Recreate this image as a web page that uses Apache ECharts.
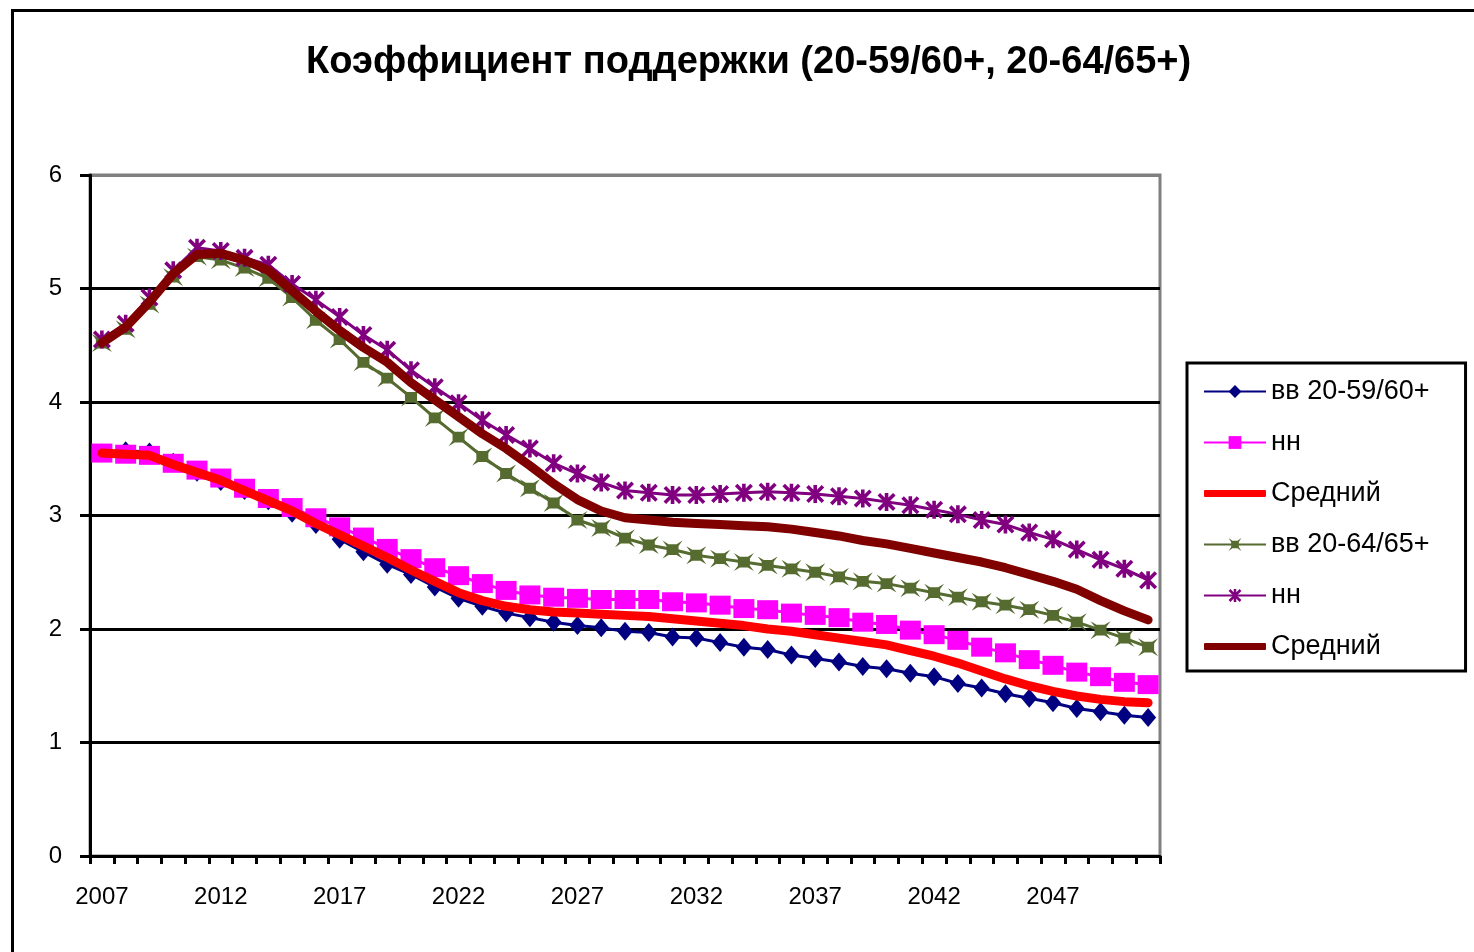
<!DOCTYPE html>
<html>
<head>
<meta charset="utf-8">
<script src="https://cdn.jsdelivr.net/npm/echarts@6/dist/echarts.min.js"></script>
<style>
html,body{margin:0;padding:0;background:#fff;}
#chart{width:1474px;height:952px;}
</style>
</head>
<body>
<div id="chart"></div>
<script>
var years = ['2007','2008','2009','2010','2011','2012','2013','2014','2015','2016','2017','2018','2019','2020','2021','2022','2023','2024','2025','2026','2027','2028','2029','2030','2031','2032','2033','2034','2035','2036','2037','2038','2039','2040','2041','2042','2043','2044','2045','2046','2047','2048','2049','2050','2051'];

var vv1 = [3.55,3.57,3.56,3.47,3.38,3.30,3.22,3.13,3.02,2.92,2.79,2.68,2.57,2.48,2.37,2.27,2.20,2.14,2.10,2.06,2.03,2.01,1.98,
           1.97,1.93,1.92,1.88,1.84,1.82,1.77,1.74,1.71,1.67,1.65,1.61,1.58,1.52,1.48,1.43,1.39,1.35,1.30,1.27,1.24,1.22];
var nn1 = [3.55,3.54,3.53,3.46,3.40,3.33,3.24,3.15,3.07,2.98,2.90,2.81,2.71,2.62,2.54,2.47,2.40,2.34,2.30,2.28,2.27,2.26,2.26,
           2.26,2.24,2.23,2.21,2.18,2.17,2.14,2.12,2.10,2.06,2.04,1.99,1.95,1.90,1.84,1.79,1.73,1.68,1.62,1.58,1.53,1.51];
var avg1 = [3.55,3.54,3.53,3.45,3.38,3.31,3.22,3.13,3.04,2.93,2.83,2.73,2.63,2.52,2.42,2.32,2.25,2.20,2.17,2.15,2.14,2.13,2.12,
            2.11,2.09,2.07,2.05,2.03,2.00,1.98,1.95,1.92,1.89,1.86,1.81,1.76,1.70,1.63,1.56,1.50,1.45,1.41,1.38,1.36,1.35];
var vv2 = [4.52,4.64,4.86,5.10,5.28,5.25,5.18,5.09,4.92,4.72,4.55,4.35,4.21,4.04,3.86,3.69,3.52,3.37,3.24,3.11,2.96,2.89,2.80,
           2.74,2.70,2.65,2.62,2.59,2.56,2.53,2.50,2.46,2.42,2.40,2.36,2.32,2.28,2.24,2.21,2.17,2.12,2.06,1.99,1.92,1.84];
var nn2 = [4.55,4.69,4.92,5.16,5.36,5.33,5.27,5.21,5.04,4.90,4.75,4.59,4.46,4.28,4.13,3.99,3.84,3.71,3.59,3.46,3.37,3.29,3.22,
           3.20,3.18,3.18,3.19,3.20,3.21,3.20,3.19,3.17,3.15,3.12,3.09,3.05,3.01,2.96,2.92,2.85,2.79,2.70,2.61,2.53,2.43];
var avg2 = [4.52,4.66,4.88,5.13,5.30,5.31,5.25,5.16,4.98,4.80,4.63,4.48,4.35,4.17,4.02,3.87,3.72,3.59,3.44,3.28,3.14,3.04,2.98,
            2.96,2.94,2.93,2.92,2.91,2.90,2.88,2.85,2.82,2.78,2.75,2.71,2.67,2.63,2.59,2.54,2.48,2.42,2.35,2.25,2.16,2.08];

var seriesNames = ['вв 20-59/60+','нн','Средний','вв 20-64/65+','нн ','Средний '];
var titleText = 'Коэффициент поддержки (20-59/60+, 20-64/65+)';

var starPath = 'path://M4,0 L6,0 L6,10 L4,10 Z M0,1.4 L1.4,0 L10,8.6 L8.6,10 Z M8.6,0 L10,1.4 L1.4,10 L0,8.6 Z';
var xsqPath = 'path://M0,0 L3,2 L7,2 L10,0 L8,3 L8,7 L10,10 L7,8 L3,8 L0,10 L2,7 L2,3 Z';
var barIcon = 'path://M0,0 L0.01,0 L0,0.01 Z M1,4.5 L61,4.5 Q62,4.5 62,5.5 L62,10.5 Q62,11.5 61,11.5 L1,11.5 Q0,11.5 0,10.5 L0,5.5 Q0,4.5 1,4.5 Z M62,16 L61.99,16 L62,15.99 Z';

var FONT = 'Liberation Sans, Arial, sans-serif';
var chart = echarts.init(document.getElementById('chart'));
var option = {
  animation: false,
  backgroundColor: '#fff',
  graphic: [{
    type: 'rect', left: 10, top: 8, shape: {width: 1480, height: 960},
    style: {fill: 'none', stroke: '#000', lineWidth: 3}, z: -1
  }],
  title: {
    text: titleText,
    left: 306,
    top: 44,
    padding: 0,
    textStyle: {fontFamily: FONT, fontSize: 38, fontWeight: 'bold', color: '#000'}
  },
  legend: {
    orient: 'vertical',
    left: 1187, top: 363,
    padding: [15, 36, 11, 16],
    itemGap: 24,
    itemWidth: 62, itemHeight: 16,
    backgroundColor: '#fff',
    borderColor: '#000', borderWidth: 3,
    formatter: function (n) { return n.replace(/\s+$/, ''); },
    textStyle: {fontFamily: FONT, fontSize: 27, color: '#000'},
    data: [
      {name: seriesNames[0]},
      {name: seriesNames[1]},
      {name: seriesNames[2], icon: barIcon},
      {name: seriesNames[3]},
      {name: seriesNames[4]},
      {name: seriesNames[5], icon: barIcon}
    ]
  },
  grid: {
    left: 90, top: 175, width: 1070, height: 681,
    show: true, borderColor: '#808080', borderWidth: 3, backgroundColor: '#fff'
  },
  xAxis: {
    type: 'category',
    data: years,
    boundaryGap: true,
    axisLine: {lineStyle: {color: '#000', width: 3}},
    axisTick: {show: true, interval: 0, length: 8, lineStyle: {color: '#000', width: 3}},
    axisLabel: {interval: 4, margin: 29, color: '#000', fontSize: 24, fontFamily: FONT},
    splitLine: {show: false}
  },
  yAxis: {
    type: 'value',
    min: 0, max: 6, interval: 1,
    axisLine: {show: true, lineStyle: {color: '#000', width: 3}},
    axisTick: {show: true, length: 10, lineStyle: {color: '#000', width: 3}},
    axisLabel: {margin: 28, color: '#000', fontSize: 24, fontFamily: FONT},
    splitLine: {show: true, lineStyle: {color: ['#000','#000','#000','#000','#000','#000','#808080'], width: 3}}
  },
  series: [
    {name: seriesNames[0], type: 'line', data: vv1, symbol: 'diamond', symbolSize: [16, 19], showAllSymbol: true,
     lineStyle: {color: '#000080', width: 3}, itemStyle: {color: '#000080'}, z: 2},
    {name: seriesNames[1], type: 'line', data: nn1, symbol: 'rect', symbolSize: [21, 19], showAllSymbol: true,
     lineStyle: {color: '#FF00FF', width: 3}, itemStyle: {color: '#FF00FF'}, z: 3},
    {name: seriesNames[2], type: 'line', data: avg1, symbol: 'none', showSymbol: false,
     lineStyle: {color: '#FF0000', width: 9, cap: 'round', join: 'round'}, itemStyle: {color: '#FF0000'}, z: 4},
    {name: seriesNames[3], type: 'line', data: vv2, symbol: xsqPath, symbolSize: [20, 18], showAllSymbol: true,
     lineStyle: {color: '#556B2F', width: 3}, itemStyle: {color: '#556B2F'}, z: 2},
    {name: seriesNames[4], type: 'line', data: nn2, symbol: starPath, symbolSize: [18, 18], showAllSymbol: true,
     lineStyle: {color: '#800080', width: 3}, itemStyle: {color: '#800080'}, z: 3},
    {name: seriesNames[5], type: 'line', data: avg2, symbol: 'none', showSymbol: false,
     lineStyle: {color: '#800000', width: 9, cap: 'round', join: 'round'}, itemStyle: {color: '#800000'}, z: 4}
  ]
};
chart.setOption(option);
</script>
</body>
</html>
